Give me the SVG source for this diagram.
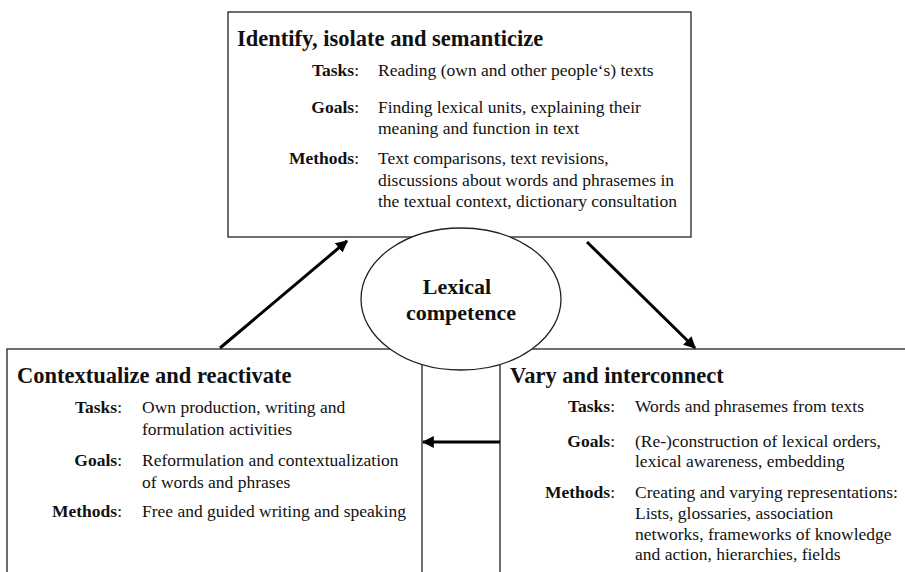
<svg xmlns="http://www.w3.org/2000/svg" width="905" height="572" viewBox="0 0 905 572" font-family="Liberation Serif, serif" fill="#111">
<style>
.box{fill:#fff;stroke:#222;stroke-width:1.3}
.t{font-family:"Liberation Serif",serif;font-size:17.5px}
.h{font-family:"Liberation Serif",serif;font-size:22.5px;font-weight:bold}
.l{text-anchor:end}
.b{font-weight:bold}
.arr{stroke:#000;stroke-width:3;fill:none;marker-end:url(#ah)}
</style>
<defs>
<marker id="ah" viewBox="0 0 10 10" refX="9" refY="5" markerWidth="4" markerHeight="4" orient="auto" markerUnits="strokeWidth">
<path d="M0,0 L10,5 L0,10 Z" fill="#000"/>
</marker>
</defs>
<rect width="905" height="572" fill="#fff"/>
<g id="node-left">
<rect class="box" x="7" y="349" width="415" height="240"/>
<text class="h" x="17" y="383">Contextualize and reactivate</text>
<text class="t l" x="122" y="413"><tspan class="b">Tasks</tspan>:</text>
<text class="t" x="142" y="413">Own production, writing and</text>
<text class="t" x="142" y="435">formulation activities</text>
<text class="t l" x="122" y="466"><tspan class="b">Goals</tspan>:</text>
<text class="t" x="142" y="466">Reformulation and contextualization</text>
<text class="t" x="142" y="488">of words and phrases</text>
<text class="t l" x="122" y="517"><tspan class="b">Methods</tspan>:</text>
<text class="t" x="142" y="517">Free and guided writing and speaking</text>
</g>
<g id="node-right">
<rect class="box" x="500" y="349" width="420" height="240"/>
<text class="h" x="510" y="383">Vary and interconnect</text>
<text class="t l" x="615" y="412"><tspan class="b">Tasks</tspan>:</text>
<text class="t" x="635" y="412">Words and phrasemes from texts</text>
<text class="t l" x="615" y="447"><tspan class="b">Goals</tspan>:</text>
<text class="t" x="635" y="447">(Re-)construction of lexical orders,</text>
<text class="t" x="635" y="467">lexical awareness, embedding</text>
<text class="t l" x="615" y="498"><tspan class="b">Methods</tspan>:</text>
<text class="t" x="635" y="498">Creating and varying representations:</text>
<text class="t" x="635" y="519">Lists, glossaries, association</text>
<text class="t" x="635" y="540">networks, frameworks of knowledge</text>
<text class="t" x="635" y="560">and action, hierarchies, fields</text>
</g>
<g id="node-top">
<rect class="box" x="228" y="12" width="463" height="225"/>
<text class="h" x="237" y="46">Identify, isolate and semanticize</text>
<text class="t l" x="359" y="76"><tspan class="b">Tasks</tspan>:</text>
<text class="t" x="378" y="76">Reading (own and other people‘s) texts</text>
<text class="t l" x="359" y="113"><tspan class="b">Goals</tspan>:</text>
<text class="t" x="378" y="113">Finding lexical units, explaining their</text>
<text class="t" x="378" y="134">meaning and function in text</text>
<text class="t l" x="359" y="164"><tspan class="b">Methods</tspan>:</text>
<text class="t" x="378" y="164">Text comparisons, text revisions,</text>
<text class="t" x="378" y="186">discussions about words and phrasemes in</text>
<text class="t" x="378" y="207">the textual context, dictionary consultation</text>
</g>
<g id="node-center">
<ellipse class="box" cx="461" cy="299" rx="100" ry="71"/>
<text class="h" x="457" y="294" text-anchor="middle" style="font-size:22px">Lexical</text>
<text class="h" x="461" y="320" text-anchor="middle" style="font-size:22px">competence</text>
</g>
<g id="connectors">
<line class="arr" x1="220" y1="348" x2="347" y2="241"/>
<line class="arr" x1="587" y1="242" x2="695" y2="348"/>
<line class="arr" x1="500" y1="442" x2="423" y2="442"/>
</g>
</svg>
